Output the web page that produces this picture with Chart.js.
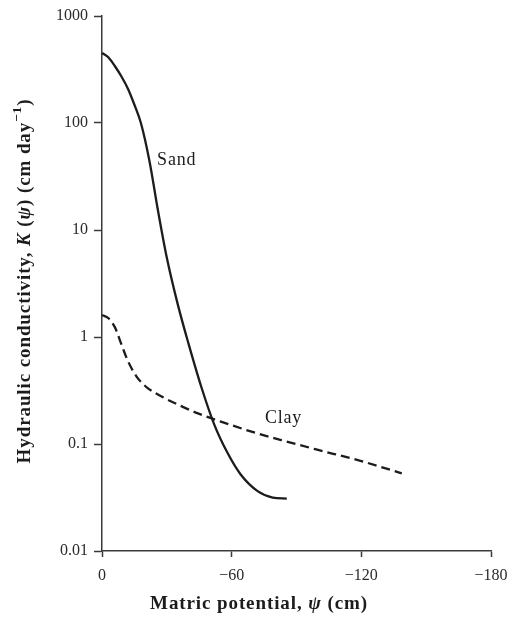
<!DOCTYPE html>
<html>
<head>
<meta charset="utf-8">
<script src="https://cdn.jsdelivr.net/npm/chart.js@4"></script>
<style>
  html, body { margin: 0; padding: 0; background: #fff; }
  #wrap { width: 507px; height: 618px; position: relative; }
</style>
</head>
<body>
<div id="wrap"><canvas id="c" width="507" height="618"></canvas></div>
<script>
// ---- data ----
const sandPsi = [0, -3, -6, -9, -12, -15, -18, -22, -26, -30, -35, -40, -46, -52, -58, -64, -72, -79, -85.5];
const sandK   = [451, 409, 339, 272, 209, 148, 100, 43.7, 14.8, 5.50, 2.04, 0.871, 0.339, 0.151, 0.0832, 0.0525, 0.0363, 0.0316, 0.0309];
const clayPsi = [0, -3, -6, -9, -12, -16, -21, -28, -36, -45, -55, -70, -85, -100, -120, -138.7];
const clayK   = [1.607, 1.496, 1.230, 0.851, 0.596, 0.427, 0.335, 0.275, 0.229, 0.191, 0.162, 0.129, 0.106, 0.0881, 0.0692, 0.0532];
const yTickValues = [0.01, 0.1, 1, 10, 100, 1000];
const yTickLabels = ['0.01', '0.1', '1', '10', '100', '1000'];
const xTickValues = [0, -60, -120, -180];
const xTickLabels = ['0', '\u221260', '\u2212120', '\u2212180'];
const seriesNames = ['Sand', 'Clay'];
const sandLabelAt = { x: -25.5, y: 45 };
const clayLabelAt = { x: -75.4, y: 0.173 };

const SERIF = '"Liberation Serif", "DejaVu Serif", serif';
const INK = '#1c1c1c';
const AXIS = '#3a3a3a';

function toPoints(xs, ys) { return xs.map((x, i) => ({ x: x, y: ys[i] })); }

function drawRich(ctx, segs, cx, cy, angle, size, spacing) {
  ctx.save();
  ctx.letterSpacing = spacing + 'px';
  ctx.translate(cx, cy);
  ctx.rotate(angle);
  ctx.textBaseline = 'middle';
  ctx.textAlign = 'left';
  let total = 0;
  const widths = segs.map(s => {
    const sz = s.sup ? size * 0.7 : size;
    ctx.font = (s.italic ? 'italic ' : '') + 'bold ' + sz + 'px ' + SERIF;
    const w = ctx.measureText(s.t).width;
    total += w;
    return w;
  });
  let x = -total / 2;
  segs.forEach((s, i) => {
    const sz = s.sup ? size * 0.7 : size;
    ctx.font = (s.italic ? 'italic ' : '') + 'bold ' + sz + 'px ' + SERIF;
    ctx.fillStyle = INK;
    ctx.fillText(s.t, x, s.sup ? -size * 0.38 : 0);
    x += widths[i];
  });
  ctx.restore();
}

const textPlugin = {
  id: 'textPlugin',
  afterDraw(chart) {
    const ctx = chart.ctx;
    const xs = chart.scales.x, ys = chart.scales.y;
    // series labels
    ctx.save();
    ctx.letterSpacing = '0.8px';
    ctx.font = '18px ' + SERIF;
    ctx.fillStyle = INK;
    ctx.textAlign = 'left';
    ctx.textBaseline = 'middle';
    ctx.fillText(seriesNames[0], xs.getPixelForValue(sandLabelAt.x), ys.getPixelForValue(sandLabelAt.y));
    ctx.fillText(seriesNames[1], xs.getPixelForValue(clayLabelAt.x), ys.getPixelForValue(clayLabelAt.y));
    ctx.restore();
    // axis titles
    drawRich(ctx, [
      { t: 'Hydraulic conductivity, ' },
      { t: 'K', italic: true },
      { t: ' (' },
      { t: '\u03C8', italic: true },
      { t: ') (cm day' },
      { t: '\u22121', sup: true },
      { t: ')' }
    ], 25, 281, -Math.PI / 2, 19, 0.9);
    drawRich(ctx, [
      { t: 'Matric potential, ' },
      { t: '\u03C8', italic: true },
      { t: ' (cm)' }
    ], 259, 604, 0, 19, 0.9);
  }
};

new Chart(document.getElementById('c'), {
  type: 'line',
  data: {
    datasets: [
      {
        label: seriesNames[0],
        data: toPoints(sandPsi, sandK),
        borderColor: INK,
        borderWidth: 2.3,
        pointRadius: 0,
        cubicInterpolationMode: 'monotone',
        fill: false
      },
      {
        label: seriesNames[1],
        data: toPoints(clayPsi, clayK),
        borderColor: INK,
        borderWidth: 2.3,
        borderDash: [9, 5],
        pointRadius: 0,
        cubicInterpolationMode: 'monotone',
        fill: false
      }
    ]
  },
  options: {
    responsive: false,
    animation: false,
    events: [],
    layout: { padding: { top: 16, right: 16, left: 0, bottom: 0 } },
    plugins: { legend: { display: false }, tooltip: { enabled: false }, title: { display: false } },
    scales: {
      x: {
        type: 'linear',
        min: -180,
        max: 0,
        reverse: true,
        afterFit(s) { s.height = 67; s.paddingLeft = 0; s.paddingRight = 0; },
        afterBuildTicks(s) { s.ticks = xTickValues.map(v => ({ value: v })); },
        ticks: {
          autoSkip: false,
          maxRotation: 0,
          padding: 9,
          color: '#2a2a2a',
          font: { family: SERIF, size: 16 },
          callback: (v) => xTickLabels[xTickValues.indexOf(v)]
        },
        grid: { drawOnChartArea: false, drawTicks: true, tickLength: 6, color: AXIS, tickWidth: 1.5 },
        border: { display: true, color: AXIS, width: 1.5 },
        title: { display: false }
      },
      y: {
        type: 'logarithmic',
        min: 0.01,
        max: 1000,
        afterFit(s) { s.width = 102; s.paddingTop = 0; s.paddingBottom = 0; },
        afterBuildTicks(s) { s.ticks = yTickValues.map(v => ({ value: v })); },
        ticks: {
          autoSkip: false,
          padding: 6,
          color: '#2a2a2a',
          font: { family: SERIF, size: 16 },
          callback: (v) => yTickLabels[yTickValues.indexOf(v)]
        },
        grid: { drawOnChartArea: false, drawTicks: true, tickLength: 8, color: AXIS, tickWidth: 1.5 },
        border: { display: true, color: AXIS, width: 1.5 },
        title: { display: false }
      }
    }
  },
  plugins: [textPlugin]
});
</script>
</body>
</html>
